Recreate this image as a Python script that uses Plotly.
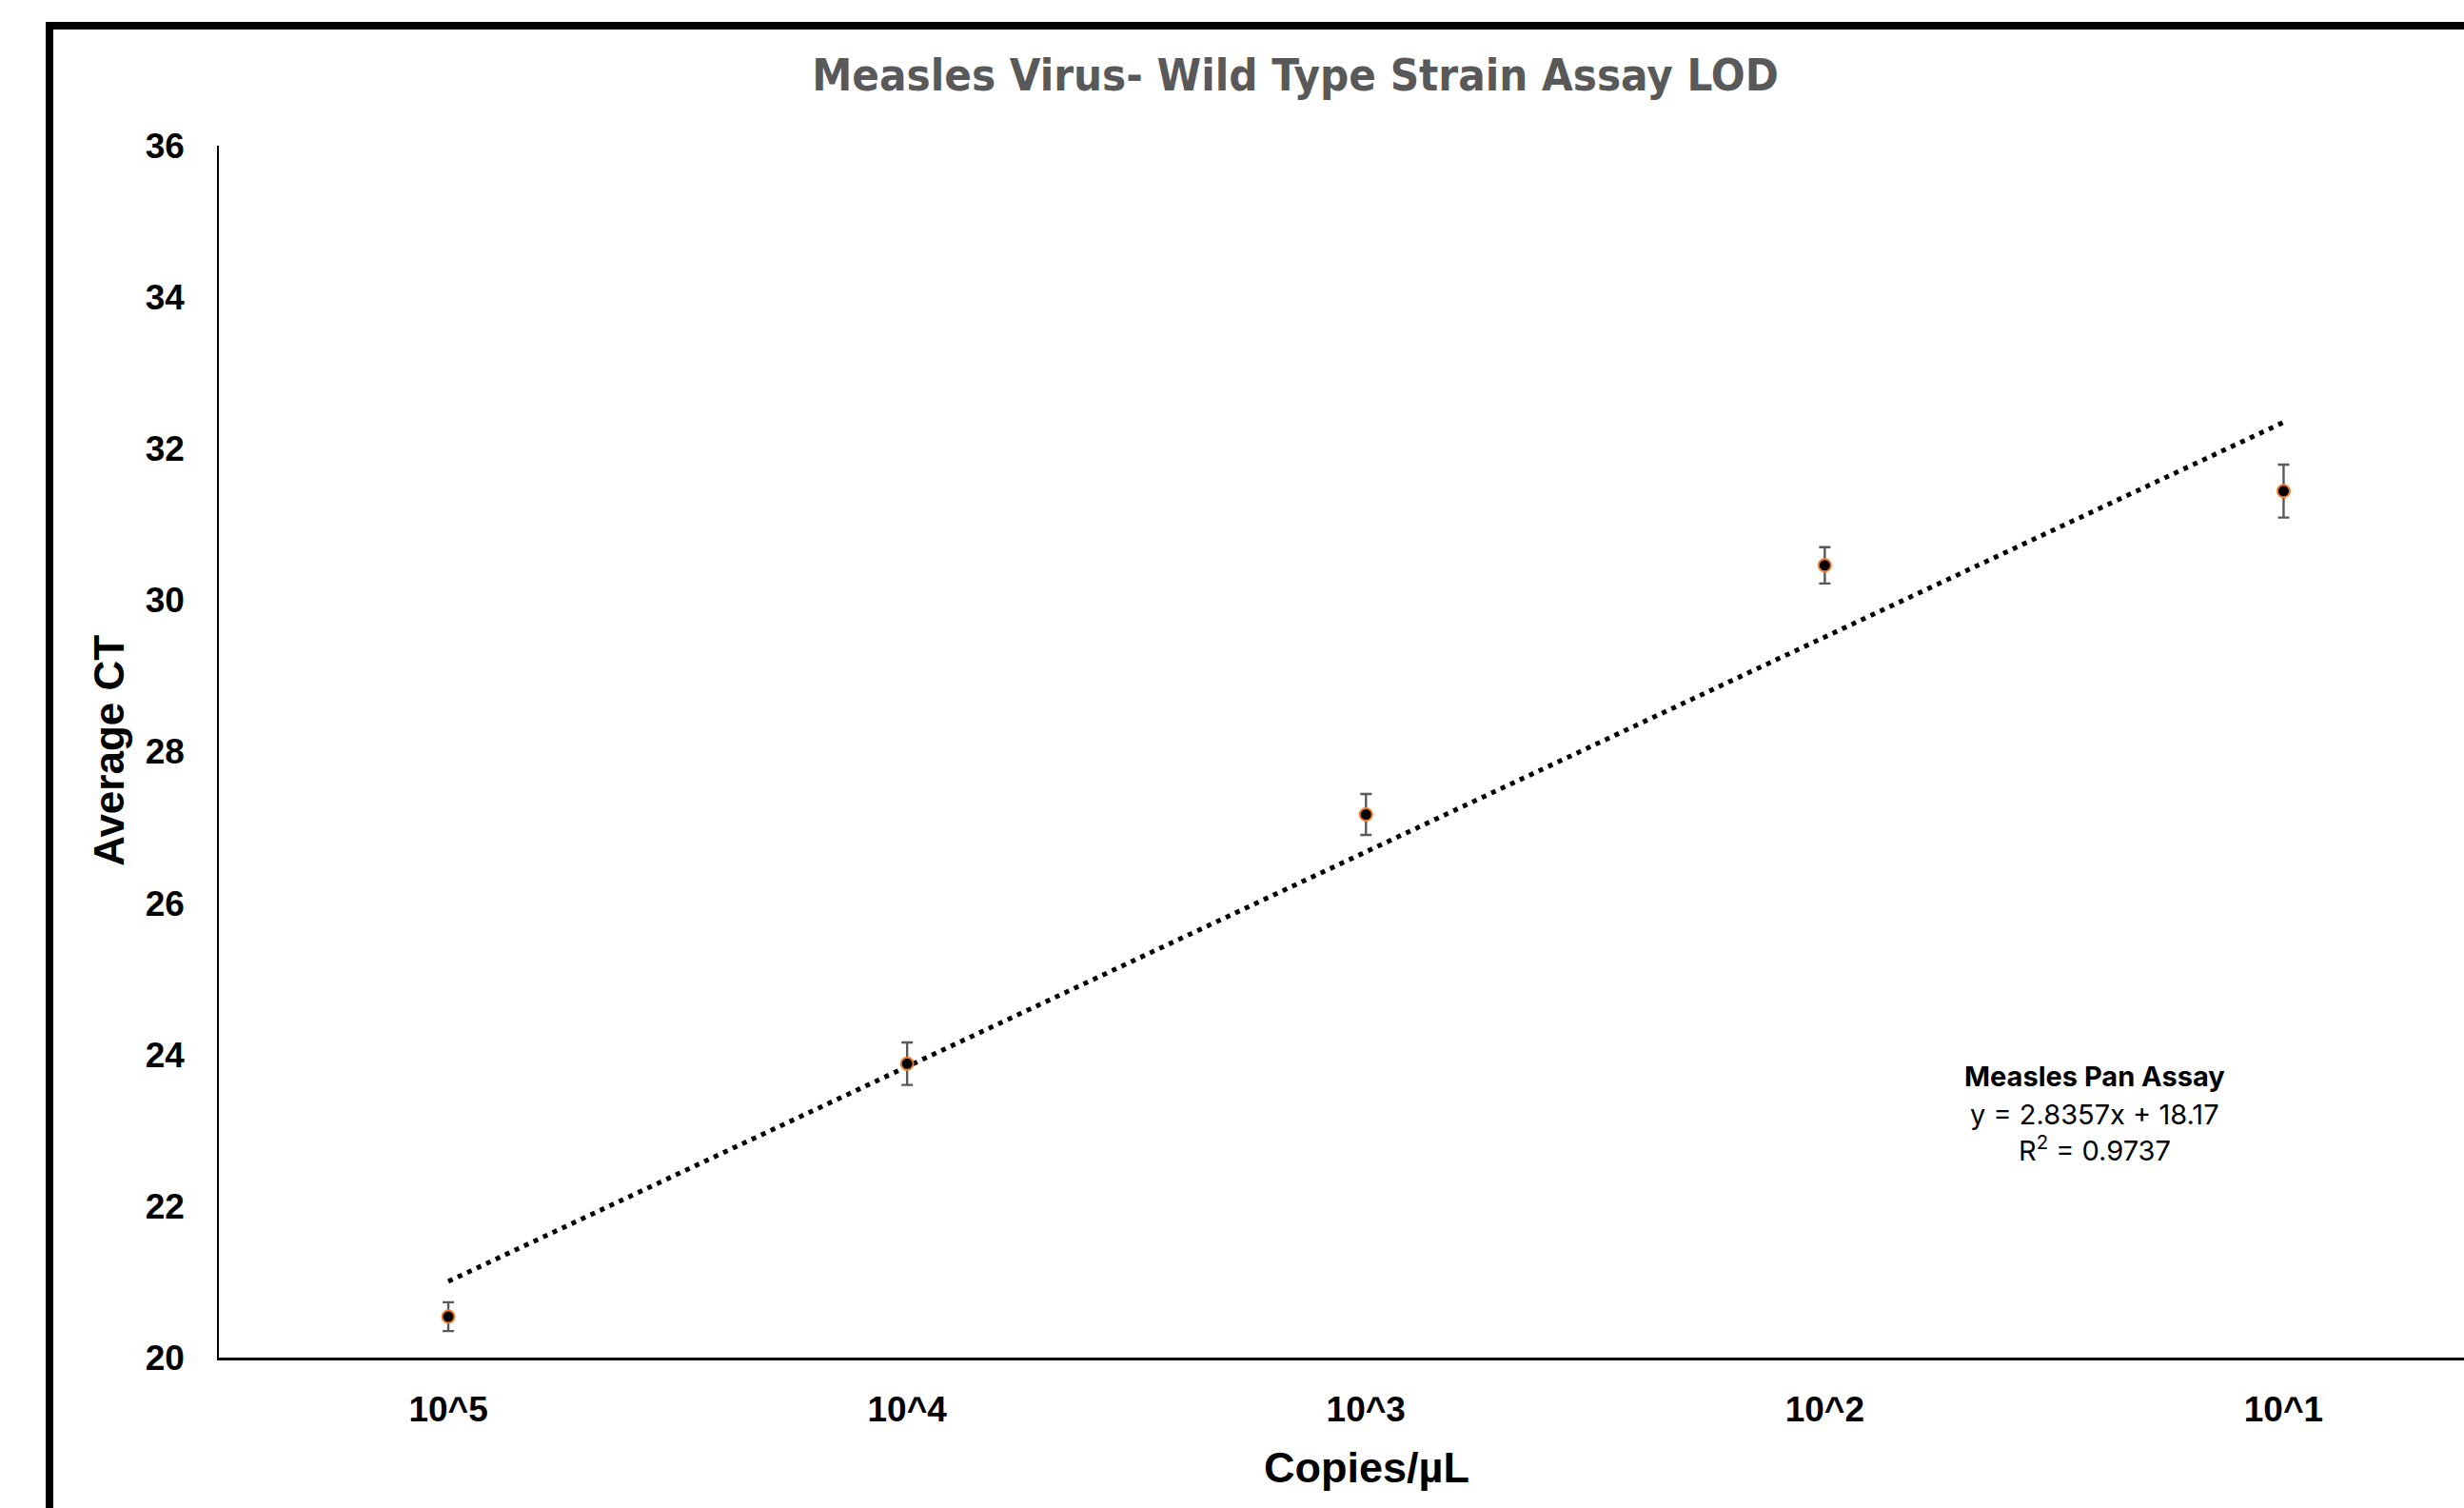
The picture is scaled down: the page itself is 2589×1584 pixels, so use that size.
import plotly.graph_objects as go

# ---- data ----
categories = ["10^5", "10^4", "10^3", "10^2", "10^1"]
positions = [1, 2, 3, 4, 5]
avg_ct = [20.54, 23.88, 27.17, 30.46, 31.44]
ct_err = [0.19, 0.28, 0.27, 0.24, 0.35]
slope = 2.8357
intercept = 18.17
r_squared = 0.9737
y_ticks = [20, 22, 24, 26, 28, 30, 32, 34, 36]

trend_x = [positions[0], positions[-1]]
trend_y = [slope * v + intercept for v in trend_x]

W, H = 2589, 1584
L, R, T, B = 230, 0, 153, 157.5
PW = W - L - R
PH = H - T - B

def px(xp):
    return (xp - L) / PW

def py(yp):
    return (H - B - yp) / PH

fig = go.Figure()

fig.add_trace(go.Scatter(
    x=trend_x, y=trend_y, mode="lines",
    line=dict(color="black", width=5, dash="5px,6px"),
    showlegend=False, hoverinfo="skip",
))

fig.add_trace(go.Scatter(
    x=positions, y=avg_ct, mode="markers",
    marker=dict(size=13, color="black", line=dict(color="#ED7D31", width=2)),
    error_y=dict(type="data", array=ct_err, visible=True,
                 color="#595959", thickness=2.4, width=6),
    showlegend=False,
))

tick_font = dict(family="Liberation Sans, Arial, sans-serif", size=37,
                 color="black", weight="bold")

fig.update_layout(
    width=W, height=H,
    margin=dict(l=L, r=R, t=T, b=B, pad=0),
    paper_bgcolor="white", plot_bgcolor="white",
    title=dict(
        text="Measles Virus- Wild Type Strain Assay LOD",
        x=1361 / W, y=1 - 79 / H, xref="container", yref="container",
        xanchor="center", yanchor="middle",
        font=dict(family="Liberation Sans Narrow, Arial Narrow, DejaVu Sans Condensed, sans-serif",
                  size=47, color="#595959", weight="bold"),
    ),
    xaxis=dict(
        range=[0.5, 0.5 + PW / 482.1],
        tickvals=positions, ticktext=categories,
        showline=True, linecolor="black", linewidth=2.5,
        showgrid=False, zeroline=False, ticks="",
        tickfont=tick_font, ticklabelstandoff=20,
    ),
    yaxis=dict(
        range=[20, 36], tickvals=y_ticks,
        showline=True, linecolor="black", linewidth=1.6,
        showgrid=False, zeroline=False, ticks="",
        tickfont=tick_font, ticklabelstandoff=27,
    ),
)

# axis titles
fig.add_annotation(text="Copies/µL", xref="paper", yref="paper",
                   x=px(1436), y=py(1542), xanchor="center", yanchor="middle",
                   showarrow=False,
                   font=dict(family="Liberation Sans, Arial, sans-serif", size=45,
                             color="black", weight="bold"))
fig.add_annotation(text="Average CT", xref="paper", yref="paper",
                   x=px(115), y=py(789), xanchor="center", yanchor="middle",
                   textangle=-90, showarrow=False,
                   font=dict(family="Liberation Sans, Arial, sans-serif", size=44,
                             color="black", weight="bold"))

# trendline label
lab_font = dict(family="Inter, Roboto, sans-serif", size=29, color="black")
fig.add_annotation(text="<b>Measles Pan Assay</b>", xref="paper", yref="paper",
                   x=px(2201), y=py(1131), xanchor="center", yanchor="middle",
                   showarrow=False, font=lab_font)
fig.add_annotation(text=f"y = {slope}x + {intercept}", xref="paper", yref="paper",
                   x=px(2201), y=py(1171), xanchor="center", yanchor="middle",
                   showarrow=False, font=lab_font)
fig.add_annotation(text=f"R<sup>2</sup> = {r_squared}", xref="paper", yref="paper",
                   x=px(2201), y=py(1207), xanchor="center", yanchor="middle",
                   showarrow=False, font=lab_font)

# outer frame (extends beyond the right and bottom edges)
fig.add_shape(type="rect", xref="paper", yref="paper",
              x0=px(52), x1=px(2800), y0=py(1800), y1=py(27),
              line=dict(color="black", width=8), fillcolor="rgba(0,0,0,0)",
              layer="above")

fig.write_html(
    "out.html",
    config={"displayModeBar": False},
    post_script="document.body.style.margin='0';document.body.style.overflow='hidden';",
)
